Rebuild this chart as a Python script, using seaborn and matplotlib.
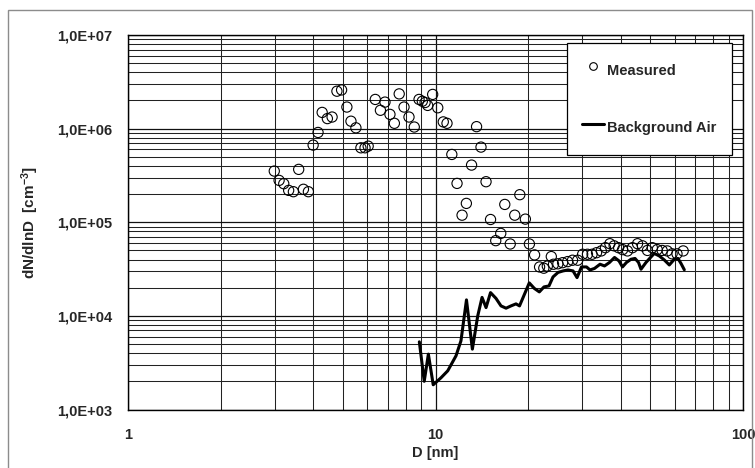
import matplotlib
matplotlib.use("Agg")
import matplotlib.pyplot as plt
import numpy as np
import pandas as pd
import seaborn as sns
from matplotlib.lines import Line2D
from matplotlib.patches import Rectangle
from matplotlib.ticker import FixedLocator, FixedFormatter, LogLocator, NullFormatter

# Measured size distribution (D in nm, dN/dlnD in cm^-3)
measured_d = [2.99, 3.10, 3.21, 3.33, 3.45, 3.59, 3.72, 3.86, 4.00, 4.15,
              4.28, 4.45, 4.61, 4.78, 4.95, 5.15, 5.31, 5.51, 5.72, 5.90,
              6.04, 6.37, 6.62, 6.85, 7.11, 7.35, 7.62, 7.90, 8.20, 8.53,
              8.84, 9.06, 9.25, 9.43, 9.79, 10.17, 10.6, 10.9, 11.3, 11.75,
              12.2, 12.6, 13.1, 13.6, 14.06, 14.6, 15.1, 15.7, 16.3, 16.8,
              17.5, 18.1, 18.8, 19.6, 20.2, 21.0, 21.8, 22.5, 23.1, 23.8,
              24.2, 25.0, 25.9, 26.9, 27.9, 29.0, 30.1, 31.2, 32.3, 33.4,
              34.6, 35.7, 36.9, 38.1, 39.4, 40.6, 42.1, 43.7, 45.4, 47.1,
              48.9, 50.7, 52.6, 54.6, 56.7, 58.8, 61.0, 63.9]
measured_n = [3.52e5, 2.80e5, 2.58e5, 2.19e5, 2.12e5, 3.67e5, 2.25e5, 2.12e5, 6.67e5, 9.1e5,
              1.49e6, 1.28e6, 1.33e6, 2.51e6, 2.59e6, 1.70e6, 1.20e6, 1.02e6, 6.24e5, 6.24e5,
              6.5e5, 2.05e6, 1.57e6, 1.92e6, 1.42e6, 1.14e6, 2.35e6, 1.70e6, 1.33e6, 1.04e6,
              2.05e6, 1.96e6, 1.90e6, 1.77e6, 2.32e6, 1.67e6, 1.18e6, 1.14e6, 5.3e5, 2.6e5,
              1.19e5, 1.59e5, 4.08e5, 1.05e6, 6.35e5, 2.71e5, 1.07e5, 6.36e4, 7.6e4, 1.55e5,
              5.86e4, 1.19e5, 1.97e5, 1.08e5, 5.86e4, 4.48e4, 3.33e4, 3.23e4, 3.4e4, 4.3e4,
              3.56e4, 3.6e4, 3.7e4, 3.8e4, 3.93e4, 3.93e4, 4.55e4, 4.55e4, 4.55e4, 4.73e4,
              4.94e4, 5.35e4, 5.9e4, 5.6e4, 5.35e4, 5.1e4, 4.94e4, 5.35e4, 5.9e4, 5.6e4,
              5.0e4, 5.35e4, 5.1e4, 5.0e4, 4.94e4, 4.6e4, 4.6e4, 4.94e4]

# Background air size distribution
background_d = [8.86, 9.19, 9.48, 9.83, 10.42, 10.96, 11.66, 12.10, 12.61, 13.18,
                13.72, 14.17, 14.60, 15.10, 15.73, 16.33, 16.96, 17.60, 18.27, 18.76,
                19.47, 20.18, 20.96, 21.76, 22.53, 23.39, 24.11, 25.03, 25.98, 26.97,
                28.01, 28.86, 29.84, 30.98, 31.80, 32.89, 34.28, 35.45, 36.81, 38.21,
                39.52, 40.56, 41.79, 43.23, 44.55, 45.73, 46.59, 48.37, 50.21, 51.46,
                53.43, 55.47, 57.59, 59.79, 61.46, 62.86, 64.43]
background_n = [5280, 2000, 3905, 1837, 2182, 2590, 3745, 5413, 14820, 4414,
                10000, 15750, 12260, 17720, 15370, 12780, 12080, 12780, 13430, 12780,
                17040, 22490, 19650, 18030, 20390, 20890, 26060, 29110, 30200, 30950,
                30200, 25620, 33320, 33320, 30950, 32110, 35610, 34150, 37220, 42070,
                38620, 33320, 37220, 40250, 41050, 37220, 31480, 37220, 42590, 46420,
                43650, 39570, 34990, 40250, 41050, 36310, 31100]

x_ticks = [1, 10, 100]
x_tick_labels = ["1", "10", "100"]
y_ticks = [1e3, 1e4, 1e5, 1e6, 1e7]
y_tick_labels = ["1,0E+03", "1,0E+04", "1,0E+05", "1,0E+06", "1,0E+07"]

measured = pd.DataFrame({"D": measured_d, "N": measured_n})
background = pd.DataFrame({"D": background_d, "N": background_n})

sns.set_style("white")
plt.rcParams["font.family"] = ["Liberation Sans", "DejaVu Sans"]
plt.rcParams["font.weight"] = "bold"
plt.rcParams["mathtext.fontset"] = "custom"
plt.rcParams["mathtext.rm"] = "Liberation Sans:bold"
plt.rcParams["mathtext.default"] = "rm"

W, H = 755, 468
fig = plt.figure(figsize=(W / 100, H / 100), dpi=100)
fig.patch.set_facecolor("white")
ax = fig.add_axes([128 / W, 1 - 409.5 / H, 615 / W, 374.5 / H])
ax.set_xscale("log")
ax.set_yscale("log")

sns.scatterplot(data=measured, x="D", y="N", ax=ax, marker="o", s=54,
                facecolor="none", edgecolor="black", linewidth=0.8, zorder=3,
                legend=False)
sns.lineplot(data=background, x="D", y="N", ax=ax, sort=False, estimator=None,
             color="black", linewidth=2.2, zorder=4, legend=False)

ax.set_xlim(1, 100)
ax.set_ylim(1e3, 1e7)

ax.xaxis.set_major_locator(FixedLocator(x_ticks))
ax.xaxis.set_major_formatter(FixedFormatter(x_tick_labels))
ax.yaxis.set_major_locator(FixedLocator(y_ticks))
ax.yaxis.set_major_formatter(FixedFormatter(y_tick_labels))
ax.xaxis.set_minor_locator(LogLocator(base=10, subs=np.arange(2, 10)))
ax.yaxis.set_minor_locator(LogLocator(base=10, subs=np.arange(2, 10)))
ax.xaxis.set_minor_formatter(NullFormatter())
ax.yaxis.set_minor_formatter(NullFormatter())

ax.grid(True, which="major", color="#111111", linewidth=0.9)
ax.grid(True, which="minor", color="#222222", linewidth=0.75)
ax.set_axisbelow(True)

ax.tick_params(axis="x", which="major", pad=9)
ax.tick_params(axis="y", which="major", pad=7)
ax.tick_params(which="major", direction="out", length=4, width=0.8,
               color="black", labelsize=10.5)
ax.tick_params(which="minor", length=0)
for lab in ax.get_xticklabels() + ax.get_yticklabels():
    lab.set_fontweight("bold")
for sp in ax.spines.values():
    sp.set_color("black")
    sp.set_linewidth(1.0)

ax.set_xlabel("D [nm]", fontsize=10.5, fontweight="bold")
ax.set_ylabel(r"dN/dlnD  [cm$^{-3}$]", fontsize=11, fontweight="bold")
ax.xaxis.set_label_coords(0.5, -0.097)
ax.yaxis.set_label_coords(-0.142, 0.5)

handles = [
    Line2D([], [], marker="o", linestyle="none", markerfacecolor="none",
           markeredgecolor="black", markersize=5.5, markeredgewidth=0.8,
           label="Measured"),
    Line2D([], [], color="black", linewidth=2.2, label="Background Air"),
]
leg = ax.legend(handles=handles, loc="upper right",
                bbox_to_anchor=(0.982, 0.9786), borderaxespad=0,
                frameon=True, fancybox=False, framealpha=1,
                edgecolor="black", prop={"weight": "bold", "size": 10.5},
                handlelength=1.45, handletextpad=0.25, borderpad=1.05,
                labelspacing=2.35, handleheight=2.1)
leg.get_frame().set_linewidth(0.9)
leg.set_zorder(10)

fig.add_artist(Rectangle((8 / W, -0.01), (752 - 8) / W, (H - 10) / H + 0.01,
                         transform=fig.transFigure, fill=False,
                         edgecolor="#8c8c8c", linewidth=1.0))

fig.savefig("out.png", dpi=100, facecolor="white")
